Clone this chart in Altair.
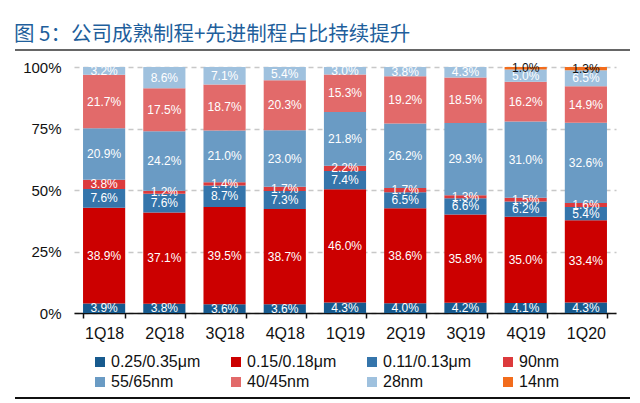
import altair as alt
import pandas as pd

quarters = ["1Q18", "2Q18", "3Q18", "4Q18", "1Q19", "2Q19", "3Q19", "4Q19", "1Q20"]
nodes = ["0.25/0.35μm", "0.15/0.18μm", "0.11/0.13μm", "90nm", "55/65nm", "40/45nm", "28nm", "14nm"]
colors = ["#175a8e", "#cc0000", "#3575ab", "#dc3a3c", "#6a9bc4", "#e26a6a", "#9fc1de", "#f26c1c"]

v_025 = [3.9, 3.8, 3.6, 3.6, 4.3, 4.0, 4.2, 4.1, 4.3]
v_015 = [38.9, 37.1, 39.5, 38.7, 46.0, 38.6, 35.8, 35.0, 33.4]
v_011 = [7.6, 7.6, 8.7, 7.3, 7.4, 6.5, 6.6, 6.2, 5.4]
v_90 = [3.8, 1.2, 1.4, 1.7, 2.2, 1.7, 1.3, 1.5, 1.6]
v_55 = [20.9, 24.2, 21.0, 23.0, 21.8, 26.2, 29.3, 31.0, 32.6]
v_40 = [21.7, 17.5, 18.7, 20.3, 15.3, 19.2, 18.5, 16.2, 14.9]
v_28 = [3.2, 8.6, 7.1, 5.4, 3.0, 3.8, 4.3, 5.0, 6.5]
v_14 = [0, 0, 0, 0, 0, 0, 0, 1.0, 1.3]

series = [v_025, v_015, v_011, v_90, v_55, v_40, v_28, v_14]

rows = []
for qi, q in enumerate(quarters):
    cum = 0.0
    for ni, n in enumerate(nodes):
        v = series[ni][qi]
        if v <= 0:
            continue
        rows.append({
            "quarter": q, "node": n, "value": v, "order": ni,
            "mid": cum + v / 2,
            "label": f"{v:.1f}%",
            "tcolor": "#111111" if n == "14nm" else "#ffffff",
        })
        cum += v
df = pd.DataFrame(rows)

# legend fills column by column: reorder so it reads row by row (4 columns x 2 rows)
legend_order = [nodes[i] for i in (0, 4, 1, 5, 2, 6, 3, 7)]
legend_colors = [colors[i] for i in (0, 4, 1, 5, 2, 6, 3, 7)]

W, H = 542, 246

xenc = alt.X("quarter:N", sort=quarters, title=None,
             scale=alt.Scale(paddingInner=0.3, paddingOuter=0.15),
             axis=alt.Axis(labelAngle=0, labelFontSize=16, labelColor="#111111",
                           labelFont="Liberation Sans", labelPadding=7,
                           domainColor="#111111", domainWidth=1.5,
                           tickColor="#111111", tickWidth=1.5, tickSize=5,
                           tickBand="extent", grid=False))

bars = alt.Chart(df).mark_bar(stroke=None).encode(
    x=xenc,
    y=alt.Y("value:Q", stack="zero", title=None,
            scale=alt.Scale(domain=[0, 100], nice=False),
            axis=alt.Axis(values=[0, 25, 50, 75, 100], labelExpr="datum.value + '%'",
                          labelFontSize=15, labelColor="#111111", labelFont="Liberation Sans",
                          labelPadding=13, domain=False, ticks=False,
                          grid=True, gridDash=[5, 4], gridColor="#c8c8c8", gridWidth=1.5)),
    color=alt.Color("node:N", scale=alt.Scale(domain=legend_order, range=legend_colors),
                    legend=alt.Legend(title=None, orient="none", legendX=18, legendY=287,
                                      columns=4, gridAlign="all", columnPadding=27,
                                      rowPadding=4, symbolType="square", symbolSize=100,
                                      symbolStrokeWidth=0, labelFontSize=16,
                                      labelFont="Liberation Sans", labelColor="#111111",
                                      labelOffset=3, padding=0)),
    order=alt.Order("order:Q", sort="ascending"),
)

texts = alt.Chart(df).mark_text(fontSize=12, font="Liberation Sans", baseline="middle").encode(
    x=alt.X("quarter:N", sort=quarters),
    y=alt.Y("mid:Q"),
    text="label:N",
    color=alt.Color("tcolor:N", scale=None),
)

line_df = pd.DataFrame({"pos": ["top", "bottom"]})
top_line = alt.Chart(line_df.iloc[[0]]).mark_rule(color="#333333", strokeWidth=1.5).encode(
    x=alt.value(-59), x2=alt.value(556), y=alt.value(-17))
bottom_line = alt.Chart(line_df.iloc[[1]]).mark_rule(color="#111111", strokeWidth=2).encode(
    x=alt.value(-59), x2=alt.value(556), y=alt.value(331))

chart = alt.layer(bars, texts, top_line, bottom_line).properties(
    width=W, height=H,
    autosize=alt.AutoSizeParams(type="none"),
    padding={"left": 66, "top": 59, "right": 16, "bottom": 86},
    title=alt.TitleParams("图 5：公司成熟制程+先进制程占比持续提升", anchor="start",
                          font="Noto Sans CJK SC", fontSize=20.5, fontWeight="normal",
                          color="#1f5f9c", dx=0, offset=4),
).configure_view(stroke=None)

chart.save("out.html", embed_options={"renderer": "svg", "actions": False})
